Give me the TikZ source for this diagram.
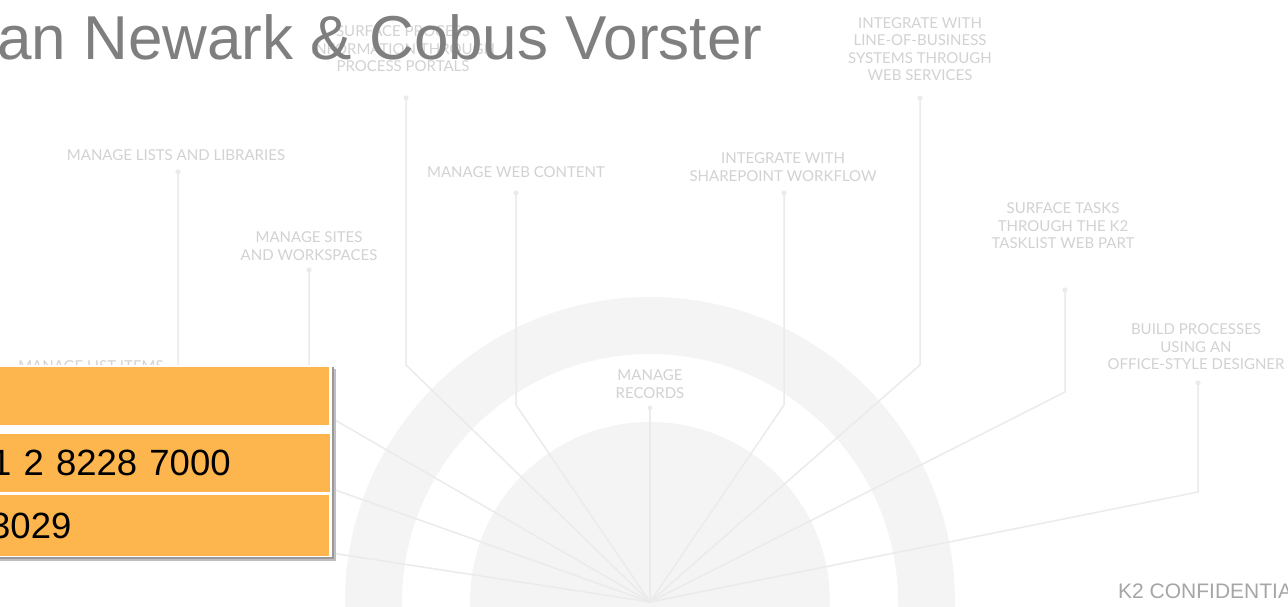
\documentclass[tikz,border=0pt]{standalone}
\usepackage{fontspec}
\setmainfont{Liberation Sans}
\newfontfamily\lblfont{Lato}
\definecolor{ringgray}{HTML}{F4F4F4}
\definecolor{spokegray}{HTML}{EBEBEB}
\definecolor{lblgray}{HTML}{D2D2D2}
\definecolor{titlegray}{HTML}{7F7F7F}
\definecolor{footgray}{HTML}{A6A6A6}
\definecolor{k2orange}{HTML}{FDB54E}
\tikzset{
  spoke/.style={draw=spokegray, line width=1.5pt},
  lbl/.style={text=lblgray, align=center, inner sep=0pt,
    font=\lblfont\fontsize{15}{17.5}\selectfont},
  pin/.style={fill=spokegray},
  row/.style={fill=k2orange, anchor=north west, minimum width=340pt,
    minimum height=58pt, inner xsep=1pt, align=left, text=black,
    font=\fontsize{36.5}{36.5}\selectfont, text width=338pt}
}
\begin{document}
\begin{tikzpicture}[x=1pt,y=-1pt]
  \useasboundingbox (0,0) rectangle (1288,606);
  \clip (0,0) rectangle (1288,606);
  \fill[white] (0,0) rectangle (1288,606);

  % ring and disc
  \coordinate (c) at (650,602);
  \fill[ringgray, even odd rule] (c) circle (305pt) (c) circle (248pt);
  \fill[ringgray] (c) circle (180pt);

  % labels
  \node[lbl] (items) at (91,366) {MANAGE LIST ITEMS};
  \node[lbl] (lists) at (176,155) {MANAGE LISTS AND LIBRARIES};
  \node[lbl] (sites) at (309,246) {MANAGE SITES\\AND WORKSPACES};
  \node[lbl] (portals) at (403,49) {SURFACE PROCESS\\INFORMATION THROUGH\\PROCESS PORTALS};
  \node[lbl] (web) at (516,172) {MANAGE WEB CONTENT};
  \node[lbl] (records) at (650,384) {MANAGE\\RECORDS};
  \node[lbl] (spwf) at (783,167) {INTEGRATE WITH\\SHAREPOINT WORKFLOW};
  \node[lbl] (lob) at (920,49) {INTEGRATE WITH\\LINE-OF-BUSINESS\\SYSTEMS THROUGH\\WEB SERVICES};
  \node[lbl] (tasks) at (1063,226) {SURFACE TASKS\\THROUGH THE K2\\TASKLIST WEB PART};
  \node[lbl] (build) at (1196,347) {BUILD PROCESSES\\USING AN\\OFFICE-STYLE DESIGNER};

  % pins and bends
  \coordinate (p-items) at (91,385);   \coordinate (b-items) at (91,516);
  \coordinate (p-lists) at (178,172);  \coordinate (b-lists) at (178,434);
  \coordinate (p-sites) at (309,270);  \coordinate (b-sites) at (309,405);
  \coordinate (p-portals) at (406,98); \coordinate (b-portals) at (406,365);
  \coordinate (p-web) at (516,193);    \coordinate (b-web) at (516,405);
  \coordinate (p-records) at (650,408);
  \coordinate (p-spwf) at (784,193);   \coordinate (b-spwf) at (784,405);
  \coordinate (p-lob) at (920,98);     \coordinate (b-lob) at (920,365);
  \coordinate (p-tasks) at (1065,290); \coordinate (b-tasks) at (1065,392);
  \coordinate (p-build) at (1198,383); \coordinate (b-build) at (1198,492);

  \foreach \n in {items,lists,sites,portals,web,spwf,lob,tasks,build}
    \draw[spoke] (c) -- (b-\n) -- (p-\n);
  \draw[spoke] (c) -- (p-records);
  \foreach \n in {items,lists,sites,portals,web,records,spwf,lob,tasks,build}
    \fill[pin] (p-\n) circle (2.6pt);

  % contact table
  \fill[black!25] (-5,369) rectangle (336,561);
  \fill[black!40] (-5,367) rectangle (334,559);
  \fill[white] (-5,365) rectangle (332,557);
  \node[row] (row1) at (-11,367) {};
  \node[row, minimum height=58pt] (row2) at (-10,434) {1 2 8228 7000};
  \node[row, minimum height=61pt] (row3) at (-11,495) {3029};

  % title and footer
  \node[anchor=base west, inner sep=0pt, text=titlegray,
    font=\fontsize{62}{62}\selectfont] (title) at (-3,59)
    {an Newark \& Cobus Vorster};
  \node[anchor=base west, inner sep=0pt, text=footgray,
    font=\fontsize{21}{21}\selectfont] (foot) at (1118,598)
    {K2 CONFIDENTIA};
\end{tikzpicture}
\end{document}
